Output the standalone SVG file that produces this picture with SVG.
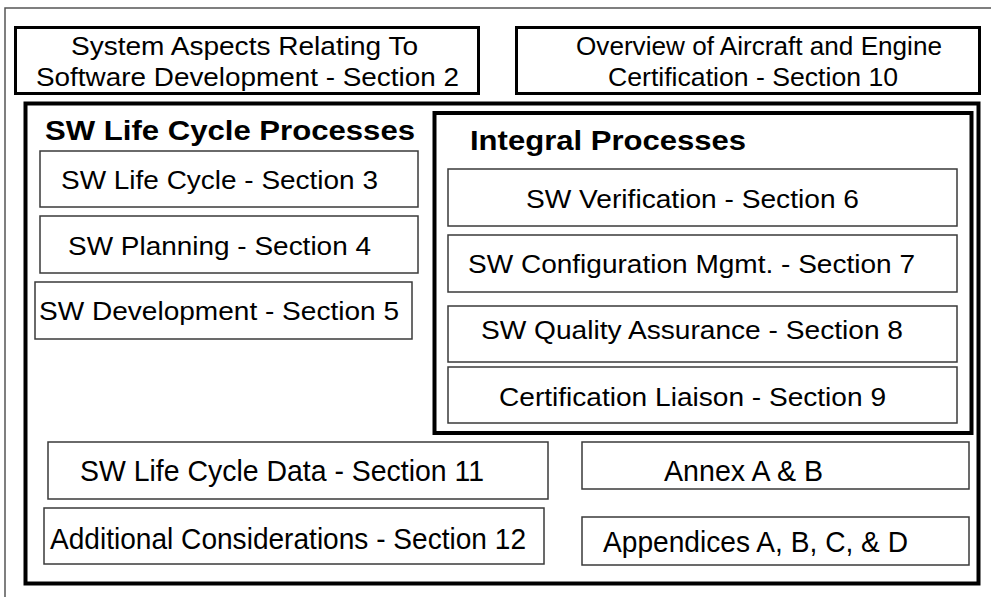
<svg xmlns="http://www.w3.org/2000/svg" width="991" height="597" viewBox="0 0 991 597">
<style>
.frame{fill:none;stroke:#555;stroke-width:1.5}
.thick3{fill:#fff;stroke:#000;stroke-width:3}
.thick4{fill:none;stroke:#000;stroke-width:4}
.thin{fill:#fff;stroke:#3a3a3a;stroke-width:1.5}
text{font-family:"Liberation Sans",Arial,sans-serif;fill:#000}
.t26{font-size:26px}
.t29{font-size:30px}
.hb{font-size:28px;font-weight:bold}
</style>
<rect width="991" height="597" fill="#fff"/>
<path class="frame" d="M5,597 V8 H991"/>
<g id="sysAspects">
<rect class="thick3" x="15.5" y="27.5" width="463" height="66"/>
<text class="t26" x="71" y="55" textLength="347" lengthAdjust="spacingAndGlyphs">System Aspects Relating To</text>
<text class="t26" x="36" y="86" textLength="423" lengthAdjust="spacingAndGlyphs">Software Development - Section 2</text>
</g>
<g id="overview">
<rect class="thick3" x="516.5" y="27.5" width="463" height="66"/>
<text class="t26" x="576" y="55" textLength="366" lengthAdjust="spacingAndGlyphs">Overview of Aircraft and Engine</text>
<text class="t26" x="608" y="86" textLength="290" lengthAdjust="spacingAndGlyphs">Certification - Section 10</text>
</g>
<g id="lifecycleProcesses">
<rect class="thick4" x="25.5" y="103.5" width="953" height="480"/>
<text class="hb" x="45" y="140" textLength="370" lengthAdjust="spacingAndGlyphs">SW Life Cycle Processes</text>
</g>
<g id="sec3">
<rect class="thin" x="40" y="151" width="378" height="56"/>
<text class="t26" x="61" y="189" textLength="317" lengthAdjust="spacingAndGlyphs">SW Life Cycle - Section 3</text>
</g>
<g id="sec4">
<rect class="thin" x="40" y="216" width="378" height="57"/>
<text class="t26" x="68" y="255" textLength="303" lengthAdjust="spacingAndGlyphs">SW Planning - Section 4</text>
</g>
<g id="sec5">
<rect class="thin" x="35" y="282" width="377" height="57"/>
<text class="t26" x="39" y="320" textLength="360" lengthAdjust="spacingAndGlyphs">SW Development - Section 5</text>
</g>
<g id="integral">
<rect class="thick4" x="434.5" y="113" width="537" height="320"/>
<text class="hb" x="470" y="150" textLength="276" lengthAdjust="spacingAndGlyphs">Integral Processes</text>
</g>
<g id="sec6">
<rect class="thin" x="448" y="169" width="509" height="57"/>
<text class="t26" x="526" y="208" textLength="333" lengthAdjust="spacingAndGlyphs">SW Verification - Section 6</text>
</g>
<g id="sec7">
<rect class="thin" x="448" y="235" width="509" height="57"/>
<text class="t26" x="468" y="273" textLength="447" lengthAdjust="spacingAndGlyphs">SW Configuration Mgmt. - Section 7</text>
</g>
<g id="sec8">
<rect class="thin" x="448" y="306" width="509" height="56"/>
<text class="t26" x="481" y="339" textLength="422" lengthAdjust="spacingAndGlyphs">SW Quality Assurance - Section 8</text>
</g>
<g id="sec9">
<rect class="thin" x="448" y="367" width="509" height="56"/>
<text class="t26" x="499" y="406" textLength="387" lengthAdjust="spacingAndGlyphs">Certification Liaison - Section 9</text>
</g>
<g id="sec11">
<rect class="thin" x="48" y="442" width="500" height="57"/>
<text class="t29" x="80" y="481" textLength="404" lengthAdjust="spacingAndGlyphs">SW Life Cycle Data - Section 11</text>
</g>
<g id="sec12">
<rect class="thin" x="44" y="508" width="500" height="56"/>
<text class="t29" x="50" y="549" textLength="476" lengthAdjust="spacingAndGlyphs">Additional Considerations - Section 12</text>
</g>
<g id="annex">
<rect class="thin" x="582" y="442" width="387" height="47"/>
<text class="t29" x="664" y="481" textLength="159" lengthAdjust="spacingAndGlyphs">Annex A &amp; B</text>
</g>
<g id="appendices">
<rect class="thin" x="582" y="517" width="387" height="48"/>
<text class="t29" x="603" y="552" textLength="305" lengthAdjust="spacingAndGlyphs">Appendices A, B, C, &amp; D</text>
</g>
<g id="connectors"></g>
</svg>
